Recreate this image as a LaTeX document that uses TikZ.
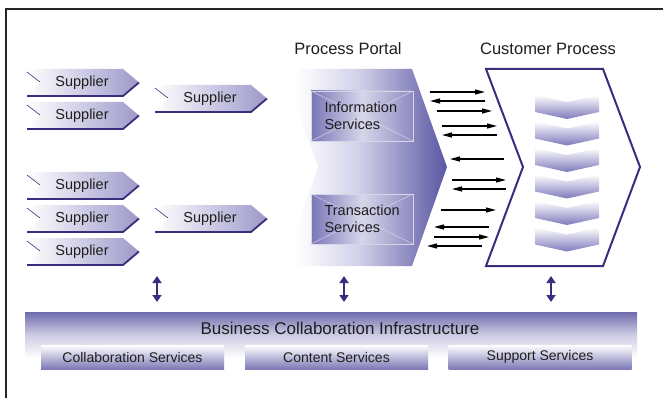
\documentclass[tikz,border=0pt]{standalone}
\usepackage{fontspec}
\setmainfont{Liberation Sans}
\usetikzlibrary{arrows.meta,positioning}

\definecolor{linepurple}{HTML}{3C2C7E}
\definecolor{supfill}{HTML}{9C99CA}
\definecolor{portalfill}{HTML}{5A56A3}
\definecolor{portallight}{HTML}{D2D1E9}
\definecolor{boxfill}{HTML}{7A76B7}
\definecolor{chevfill}{HTML}{7E7ABB}
\definecolor{barfill}{HTML}{6F6BAE}
\definecolor{txt}{HTML}{1E1E1E}

% portal fades in from the left
\pgfdeclarehorizontalshading{portalshade}{100bp}{color(0bp)=(white); color(25bp)=(white);
  color(29bp)=(white); color(48bp)=(portallight); color(75bp)=(portalfill); color(100bp)=(portalfill)}
% bar fades out towards the bottom
\pgfdeclareverticalshading{barshade}{100bp}{color(0bp)=(white); color(25bp)=(white);
  color(40bp)=(white); color(58bp)=(barfill!35); color(75bp)=(barfill); color(100bp)=(barfill)}

\tikzset{
  lbl/.style={text=txt,font=\fontsize{14.5}{17}\selectfont},
  head/.style={text=txt,font=\fontsize{16.5}{20}\selectfont},
  svcbox/.style={draw=white!70!boxfill,line width=0.4pt,
    left color=boxfill,right color=boxfill!85,middle color=white!70!boxfill,
    minimum width=102pt,minimum height=50pt,inner sep=0pt,
    path picture={\draw[white!75!boxfill,line width=0.4pt]
      (path picture bounding box.north west) -- (path picture bounding box.south east)
      (path picture bounding box.south west) -- (path picture bounding box.north east);}},
  subbox/.style={top color=white,bottom color=barfill!90,
    minimum width=183pt,minimum height=24pt,inner sep=0pt,
    text=txt,font=\fontsize{14}{16}\selectfont},
  msg/.style={line width=1.3pt,-{Triangle[length=10pt,width=5pt]}},
  link/.style={linepurple,line width=2.8pt,
    {Triangle[length=7pt,width=9pt]}-{Triangle[length=7pt,width=9pt]}}
}

% supplier chevron: name, left x, top y
\newcommand\supplier[3]{%
  \shade[left color=white,right color=supfill] (#2,#3) -- ++(96,0) -- ++(16,13.5)
    -- ++(-16,13.5) -- ++(-96,0) -- ++(13,-13.5) -- cycle;
  \draw[linepurple,line width=1.8pt] (#2,#3+27) -- ++(96,0) -- ++(16,-13.5);
  \draw[linepurple,line width=0.6pt] (#2,#3+3) -- ++(13,10);
  \node[lbl] (#1) at (#2+55,#3+14) {Supplier};
}

\begin{document}
\begin{tikzpicture}[x=1pt,y=-1pt]
\useasboundingbox (0,0) rectangle (663,398);
\draw[line width=1.5pt,black!85] (6,398) -- (6,9) -- (663,9);

% suppliers
\supplier{supA}{27}{69}
\supplier{supB}{27}{102}
\supplier{supC}{155}{85}
\supplier{supD}{27}{172}
\supplier{supE}{27}{205}
\supplier{supF}{27}{238}
\supplier{supG}{155}{205}

% process portal
\node[head] (portal) at (348,49) {Process Portal};
\shade[shading=portalshade] (283,69) -- (412,69) -- (447,167)
  -- (412,266) -- (283,266) -- (318,167) -- cycle;
\node[svcbox] (info) at (362,116) {};
\node[lbl,align=left,anchor=west] (infotxt) at (321,116) {Information\\Services};
\node[svcbox] (trans) at (362,219) {};
\node[lbl,align=left,anchor=west] (transtxt) at (321,219) {Transaction\\Services};

% customer process
\node[head] (customer) at (548,49) {Customer Process};
\draw[linepurple,line width=2pt,line join=miter] (486,69) -- (603,69) -- (640,167)
  -- (603,266) -- (486,266) -- (523,167) -- cycle;
\foreach \k in {0,...,5}
  \shade[top color=white,bottom color=chevfill] (535,95+26.5*\k) -- ++(32,7) -- ++(32,-7)
    -- ++(0,17) -- ++(-32,7) -- ++(-32,-7) -- cycle;

% messages between portal and customer
\foreach \y/\a/\b in {92/430/485,111/437/492,126/442/497,180/452/506,210/441/496,237/434/489}
  \draw[msg] (\a,\y) -- (\b,\y);
\foreach \y/\a/\b in {101/430/485,135/442/497,159/450/504,189/452/506,227/434/489,246/427/482}
  \draw[msg] (\b,\y) -- (\a,\y);

% links down to the infrastructure
\foreach \x in {157,344,551}
  \draw[link] (\x,276) -- (\x,302);

% infrastructure bar
\shade[shading=barshade] (25,312) rectangle (637,378);
\node[text=txt,font=\fontsize{17}{20}\selectfont] (infra) at (340,328) {Business Collaboration Infrastructure};
\node[subbox] (collab) at (132.5,357) {Collaboration Services};
\node[subbox] (content) at (336.5,357) {Content Services};
\node[subbox] (support) at (540,357) {Support Services};

\end{tikzpicture}
\end{document}
